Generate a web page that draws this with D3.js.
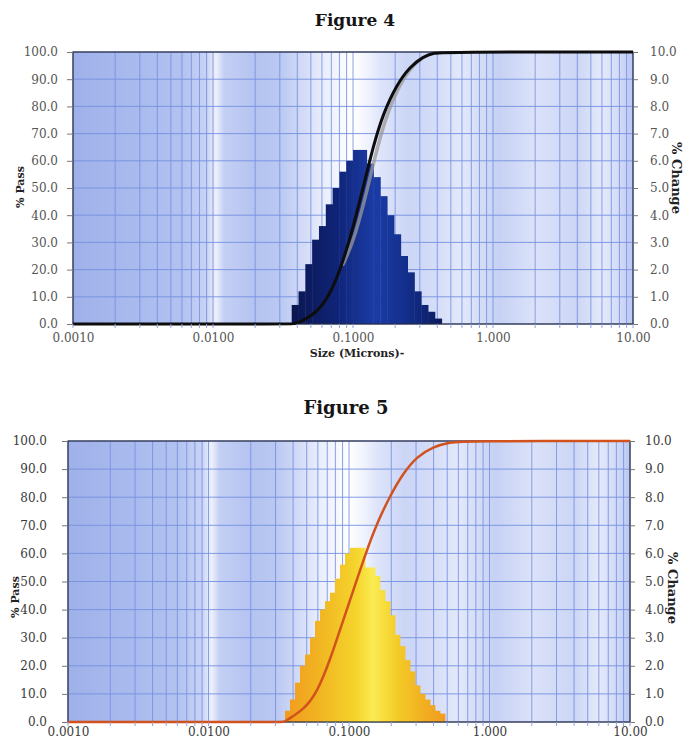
<!DOCTYPE html>
<html>
<head>
<meta charset="utf-8">
<script src="https://cdn.jsdelivr.net/npm/d3@7"></script>
<style>
body { margin: 0; background: #fff; }
svg { display: block; }
text { font-family: "DejaVu Serif", "Liberation Serif", serif; }
</style>
</head>
<body>
<svg id="chart" width="686" height="744"></svg>
<script>
// shared axes
const sizeTicks = [0.001, 0.01, 0.1, 1, 10];
const sizeTickLabels = ["0.0010", "0.0100", "0.1000", "1.000", "10.00"];
const passTicks = [0, 10, 20, 30, 40, 50, 60, 70, 80, 90, 100];
const changeTicks = [0, 1, 2, 3, 4, 5, 6, 7, 8, 9, 10];

// Figure 4 - histogram bins (microns) and % change per bin
const fig4BinEdges = [0.03649, 0.04082, 0.04565, 0.05106, 0.05713, 0.06391, 0.07149, 0.07998,
    0.08947, 0.1001, 0.1120, 0.1253, 0.1401, 0.1568, 0.1754, 0.1962, 0.2194, 0.2455, 0.2746,
    0.3072, 0.3437, 0.3845, 0.4300];
const fig4Change = [0.7, 1.2, 2.2, 3.1, 3.6, 4.4, 5.0, 5.6, 6.0, 6.4, 6.4, 5.9, 5.4, 4.7,
    4.0, 3.3, 2.5, 1.9, 1.2, 0.7, 0.45, 0.2];
// cumulative % pass
const fig4CumSize = [0.001, 0.034, 0.038, 0.0418, 0.0551, 0.0723, 0.0953, 0.1186, 0.1397, 0.1646,
    0.2051, 0.2553, 0.3178, 0.38, 0.45, 10];
const fig4CumPass = [0, 0, 0, 0.8, 3.9, 12.5, 30.9, 50.5, 65.5, 77.5, 88.0, 94.6, 98.3, 99.7, 100, 100];
// grey trace just right of the black one
const fig4ShadowSize = [0.085, 0.102, 0.128, 0.150, 0.176, 0.215, 0.262, 0.30];
const fig4ShadowPass = [22, 30.9, 50.5, 65.5, 77.5, 88.0, 94.6, 97];

// Figure 5
const fig5BinEdges = [0.03503, 0.03803, 0.04127, 0.04479, 0.04862, 0.05278, 0.05728, 0.06217,
    0.06748, 0.07324, 0.07950, 0.08629, 0.09366, 0.1017, 0.1104, 0.1198, 0.1300, 0.1411,
    0.1532, 0.1662, 0.1804, 0.1958, 0.2126, 0.2307, 0.2504, 0.2718, 0.2950, 0.3202, 0.3475,
    0.3772, 0.4094, 0.4444, 0.4824];
const fig5Change = [0.4, 0.8, 1.4, 2.0, 2.4, 3.0, 3.6, 4.0, 4.3, 4.6, 5.1, 5.6, 6.0, 6.2, 6.2,
    6.2, 5.5, 5.5, 5.2, 4.7, 4.3, 3.8, 3.1, 2.7, 2.2, 1.8, 1.3, 1.0, 0.8, 0.6, 0.4, 0.3];
const fig5CumSize = [0.001, 0.032, 0.0345, 0.0359, 0.0473, 0.0589, 0.0733, 0.0910, 0.1135, 0.1337,
    0.1574, 0.196, 0.243, 0.303, 0.398, 0.524, 0.67, 10];
const fig5CumPass = [0, 0, 0, 0.6, 4.3, 10.2, 22, 36.3, 50.5, 61, 70.5, 80.5, 88.5, 94.4, 98, 99.6, 100, 100];

const svg = d3.select("#chart");
const defs = svg.append("defs");

// scanned-paper look of the plot area (stops keyed to size positions)
const bgStops = [
    [0.001, "#9fb1e9"], [0.003, "#a9bbee"], [0.006, "#b2c2f0"], [0.009, "#c8d3f5"],
    [0.0105, "#eef1fc"], [0.012, "#c4cff4"], [0.02, "#b4c3f0"], [0.03, "#bac8f1"],
    [0.045, "#d4dcf7"], [0.06, "#e8edfc"], [0.08, "#f5f7fe"], [0.1, "#ffffff"],
    [0.13, "#eff2fd"], [0.16, "#dde4fa"], [0.25, "#cbd5f5"], [0.4, "#d5ddf8"],
    [0.6, "#e3e9fb"], [0.9, "#d0d9f6"], [1.1, "#c6d1f4"], [2, "#dbe2f9"],
    [4, "#ccd6f5"], [6, "#e4eafb"], [8, "#d2daf7"], [10, "#bac8f1"]
];

function drawPanel(o) {
    const x = d3.scaleLog().domain([0.001, 10]).range([0, o.width]);
    const yPass = d3.scaleLinear().domain([0, 100]).range([o.height, 0]);
    const yChange = d3.scaleLinear().domain([0, 10]).range([o.height, 0]);

    const bg = defs.append("linearGradient").attr("id", o.id + "-bg")
        .attr("gradientUnits", "userSpaceOnUse")
        .attr("x1", 0).attr("x2", o.width).attr("y1", 0).attr("y2", 0);
    bgStops.forEach(([s, c]) => bg.append("stop").attr("offset", x(s) / o.width).attr("stop-color", c));

    const edges = o.binEdges;
    const barGrad = defs.append("linearGradient").attr("id", o.id + "-bars")
        .attr("gradientUnits", "userSpaceOnUse")
        .attr("x1", x(edges[0])).attr("x2", x(edges[edges.length - 1]))
        .attr("y1", 0).attr("y2", 0);
    o.barStops.forEach(([off, c]) => barGrad.append("stop").attr("offset", off).attr("stop-color", c));

    const g = svg.append("g").attr("transform", `translate(${o.left},${o.top})`);

    g.append("rect").attr("width", o.width).attr("height", o.height).attr("fill", `url(#${o.id}-bg)`);

    // log grid
    const minor = [];
    [0.001, 0.01, 0.1, 1].forEach(d => { for (let k = 1; k < 10; k++) minor.push(d * k); });
    minor.push(10);
    g.append("g").selectAll("line").data(minor).join("line")
        .attr("x1", d => x(d)).attr("x2", d => x(d))
        .attr("y1", 0).attr("y2", o.height)
        .attr("stroke", "#7590e0").attr("stroke-opacity", 0.85).attr("stroke-width", 1);
    g.append("g").selectAll("line").data(passTicks).join("line")
        .attr("x1", 0).attr("x2", o.width)
        .attr("y1", d => yPass(d)).attr("y2", d => yPass(d))
        .attr("stroke", "#7590e0").attr("stroke-opacity", 0.9).attr("stroke-width", 1);

    // % change histogram
    g.append("g").selectAll("rect").data(o.change).join("rect")
        .attr("x", (d, i) => x(edges[i]))
        .attr("width", (d, i) => x(edges[i + 1]) - x(edges[i]) + 0.4)
        .attr("y", d => yChange(d))
        .attr("height", d => o.height - yChange(d))
        .attr("fill", `url(#${o.id}-bars)`);

    g.append("rect").attr("width", o.width).attr("height", o.height)
        .attr("fill", "none").attr("stroke", "#2b2d40").attr("stroke-width", 1.2);

    const line = d3.line().x(d => x(d[0])).y(d => yPass(d[1])).curve(d3.curveBasis);
    if (o.shadowSize) {
        g.append("path").datum(d3.zip(o.shadowSize, o.shadowPass))
            .attr("d", line).attr("fill", "none")
            .attr("stroke", "#9a9a9a").attr("stroke-width", 3.5).attr("stroke-opacity", 0.75)
            .attr("stroke-linecap", "round");
    }
    g.append("path").datum(d3.zip(o.cumSize, o.cumPass))
        .attr("d", line).attr("fill", "none")
        .attr("stroke", o.lineColor).attr("stroke-width", o.lineWidth)
        .attr("stroke-linejoin", "round");

    // axes
    const left = g.append("g").call(d3.axisLeft(yPass).tickValues(passTicks)
        .tickFormat(d3.format(".1f")).tickSize(6).tickPadding(o.padL));
    const right = g.append("g").attr("transform", `translate(${o.width},0)`)
        .call(d3.axisRight(yChange).tickValues(changeTicks)
            .tickFormat(d3.format(".1f")).tickSize(5).tickPadding(o.padR));
    const bottom = g.append("g").attr("transform", `translate(0,${o.height})`)
        .call(d3.axisBottom(x).tickValues(sizeTicks)
            .tickFormat((d, i) => sizeTickLabels[i]).tickSize(0).tickPadding(o.padB));
    [left, right, bottom].forEach(a => {
        a.select(".domain").remove();
        a.selectAll(".tick line").attr("stroke", "#777");
        a.selectAll("text").attr("font-size", 12).attr("fill", o.tickColor)
            .attr("font-family", "'DejaVu Serif', serif");
    });
    // small ticks under the size axis
    g.append("g").selectAll("line").data(minor).join("line")
        .attr("x1", d => x(d)).attr("x2", d => x(d))
        .attr("y1", o.height).attr("y2", o.height + 4)
        .attr("stroke", "#8fa3e0").attr("stroke-width", 1);

    svg.append("text").attr("x", o.titleX).attr("y", o.titleY)
        .attr("text-anchor", "middle").attr("font-weight", "bold")
        .attr("font-size", o.titleSize).attr("fill", "#151515").text(o.title);

    svg.append("text").attr("transform", `translate(${o.passX},${o.passY}) rotate(-90)`)
        .attr("text-anchor", "middle").attr("dy", "0.35em")
        .attr("font-weight", "bold").attr("font-size", 11).attr("fill", "#222").text("% Pass");
    svg.append("text").attr("transform", `translate(${o.changeX},${o.changeY}) rotate(90)`)
        .attr("text-anchor", "middle").attr("dy", "0.35em")
        .attr("font-weight", "bold").attr("font-size", 13).attr("fill", "#222").text("% Change");

    if (o.xTitle) {
        svg.append("text").attr("x", o.left + x(0.1) + 4).attr("y", o.top + o.height + 33)
            .attr("text-anchor", "middle").attr("font-weight", "bold")
            .attr("font-size", 11).attr("fill", "#222").text(o.xTitle);
    }
}

drawPanel({
    id: "f4", left: 73, top: 52, width: 560, height: 272,
    title: "Figure 4", titleX: 355, titleY: 26, titleSize: 17,
    xTitle: "Size (Microns)-",
    binEdges: fig4BinEdges, change: fig4Change,
    cumSize: fig4CumSize, cumPass: fig4CumPass,
    shadowSize: fig4ShadowSize, shadowPass: fig4ShadowPass,
    lineColor: "#0d0d0d", lineWidth: 3,
    barStops: [[0, "#0b1650"], [0.3, "#0f2477"], [0.55, "#1b3ca6"], [0.75, "#14308e"], [1, "#0a1a5e"]],
    tickColor: "#555", padL: 9, padR: 12, padB: 9,
    passX: 20, passY: 187, changeX: 677, changeY: 178
});

drawPanel({
    id: "f5", left: 68, top: 441, width: 562, height: 281,
    title: "Figure 5", titleX: 346, titleY: 414, titleSize: 18,
    binEdges: fig5BinEdges, change: fig5Change,
    cumSize: fig5CumSize, cumPass: fig5CumPass,
    lineColor: "#d2521d", lineWidth: 2.5,
    barStops: [[0, "#f29a1e"], [0.2, "#f1b321"], [0.45, "#f5d52c"], [0.55, "#fbec52"], [0.7, "#f3cc27"], [0.88, "#f2ad20"], [1, "#f09c1f"]],
    tickColor: "#3a3a3a", padL: 15, padR: 10, padB: 5,
    passX: 15, passY: 597, changeX: 673, changeY: 588
});
</script>
</body>
</html>
